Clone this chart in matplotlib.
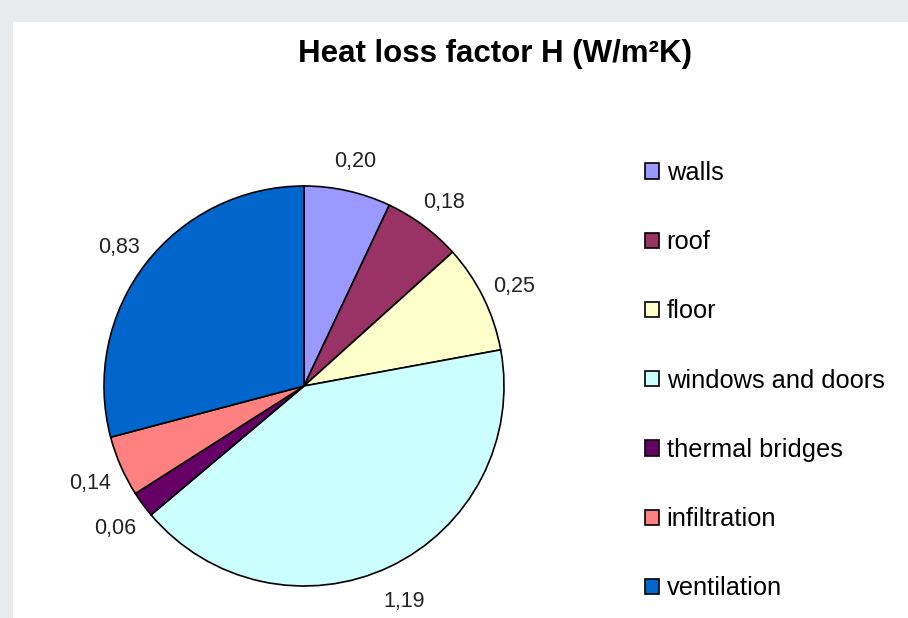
import numpy as np
import matplotlib.pyplot as plt
from matplotlib.patches import Rectangle

categories = ['walls', 'roof', 'floor', 'windows and doors',
              'thermal bridges', 'infiltration', 'ventilation']
values = [0.20, 0.18, 0.25, 1.19, 0.06, 0.14, 0.83]
colors = ['#9999FF', '#993366', '#FFFFCC', '#CCFFFF',
          '#660066', '#FF8080', '#0066CC']

plt.rcParams['font.family'] = ['Liberation Sans', 'DejaVu Sans']

fig = plt.figure(figsize=(9.08, 6.18), dpi=100, facecolor='#e8ebee')
# white chart panel
fig.patches.append(Rectangle((13 / 908, 0), 1, 1 - 22 / 618, transform=fig.transFigure,
                             facecolor='white', edgecolor='none', zorder=-10))

fig.text(495 / 908, 1 - 54 / 618, 'Heat loss factor H (W/m²K)', ha='center', va='center',
         fontsize=22.5, fontweight='bold')

ax = fig.add_axes([104 / 908, 32 / 618, 400 / 908, 400 / 618])
ax.set_facecolor('none')
wedges, _ = ax.pie(values, colors=colors, startangle=90, counterclock=False,
                   wedgeprops=dict(edgecolor='black', linewidth=1.2))
ax.set_xlim(-1, 1)
ax.set_ylim(-1, 1)
ax.set_aspect('equal')

# value labels just outside each wedge, decimal comma
for w, v in zip(wedges, values):
    mid = np.deg2rad((w.theta1 + w.theta2) / 2)
    ax.text(1.17 * np.cos(mid), 1.17 * np.sin(mid) - 0.02, f'{v:.2f}'.replace('.', ','),
            ha='center', va='center', fontsize=15.5, color='#222222', clip_on=False)

leg = fig.legend(wedges, categories, loc='upper left', bbox_to_anchor=(645 / 908, 1 - 161 / 618),
                 frameon=False, fontsize=18.3, handlelength=0.55, handleheight=0.55,
                 handletextpad=0.3, labelspacing=1.78, borderpad=0, borderaxespad=0)

fig.savefig('out.png', dpi=100, facecolor=fig.get_facecolor())
